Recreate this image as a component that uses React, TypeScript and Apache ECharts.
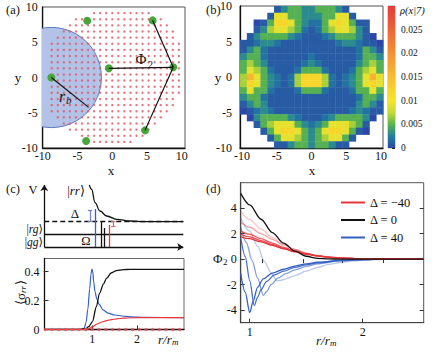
import React, { useEffect, useRef } from 'react';
import * as echarts from 'echarts';

const FONT = '"Liberation Serif", "DejaVu Serif", serif';

// ---------- panel (a) ----------
const atomX = [-3.6, 5.8, -0.5, 8.76, -8.76, 4.7, -3.76];
const atomY = [8.05, 8.1, 1.3, 1.45, 0.0, -7.5, -9.0];
const bonds = [[1, 3], [3, 5], [2, 3]];
const rbEnd = [-3.4, -4.24];
const blockadeCenter = [-8.76, 0];
const blockadeRadius = 7.2;
const latticeSpacing = 0.87;
const dotRowIdx = [10.5, 9.5, 8.5, 7.5, 6.5, 5.5, 4.5, 3.5, 2.5, 1.5, 0.5, -0.5, -1.5, -2.5, -3.5, -4.5, -5.5, -6.5, -7.5, -8.5, -9.5, -10.5];
const dotRowMin = [-3, -6, -7, -8, -9, -10, -10, -10, -10, -10, -10, -10, -10, -10, -10, -10, -10, -9, -8, -7, -5, -3];
const dotRowMax = [6, 8, 9, 10, 10, 11, 11, 11, 11, 11, 11, 11, 11, 11, 10, 10, 9, 8, 7, 6, 5, 3];
const xyTicks = [-10, -5, 0, 5, 10];

// ---------- panel (b) ----------
const heatRows = [
  '.....13443344431.....',
  '....1664433344661....',
  '..l1477643224676411..',
  '..13566542124566531..',
  '.134444321112344431l.',
  '11233211111111233211l',
  '134211111111111112431',
  '344211111121111112443',
  '454311111232111113454',
  '465421112444211124564',
  '586432125777521234686',
  '576432125777521234676',
  '464421112444211124464',
  '344211111111111112443',
  '134311111111111113431',
  'l12321111111111123211',
  '.l34444321112344443l.',
  '..14566643234666541..',
  '...146776434677641l..',
  '....1466543456641....',
  '.....11344344311.....',
];
const levelCodes = ['0', '1', '2', '3', '4', '5', '6', '7', '8', 'l'];
const levelValues = [0.0003, 0.0009, 0.0019, 0.003, 0.0048, 0.0068, 0.0092, 0.012, 0.016, -1];
const heatXRange = [-10.3, 10.3];
const heatYRange = [-10, 10];
const cmap = ['#2b48a8', '#2180a0', '#5ab54c', '#c6da35', '#f5e52a', '#f8d22b', '#f7bd2f', '#f5a632', '#f39134', '#f07b35', '#ec6536', '#e94f37', '#e63b38'];
const cbarMax = 0.03;

// ---------- panel (c) schematic (units: px-like) ----------
const rrX = [45, 47.4, 50.7, 55.7, 62.4, 72.4, 85.7, 100, 139];
const rrY = [62, 57.7, 44.3, 36, 31, 27.7, 26, 25.4, 25.3];
const levelRG = 12.7;
const levelRR = 25.3;

// ---------- panel (c) sigma_rr ----------
const sigBlackX = [-0.07, 0.7, 0.85, 0.92, 1.0, 1.09, 1.16, 1.25, 1.32, 1.42, 1.54, 1.7, 1.84, 2.2, 3.05];
const sigBlackY = [0, 0, 0.005, 0.02, 0.053, 0.157, 0.25, 0.315, 0.354, 0.39, 0.407, 0.413, 0.415, 0.415, 0.415];
const sigBlueX = [-0.07, 0.75, 0.82, 0.86, 0.9, 0.94, 0.97, 0.99, 1.01, 1.03, 1.06, 1.1, 1.15, 1.24, 1.35, 1.5, 1.75, 2.0, 2.2, 3.05];
const sigBlueY = [0, 0, 0.01, 0.05, 0.14, 0.28, 0.38, 0.417, 0.4, 0.33, 0.26, 0.21, 0.175, 0.135, 0.113, 0.1, 0.09, 0.085, 0.083, 0.082];
const sigRedX = [-0.07, 0.8, 0.9, 1.0, 1.1, 1.2, 1.3, 1.4, 1.55, 1.7, 1.9, 2.2, 3.05];
const sigRedY = [0, 0, 0.003, 0.018, 0.037, 0.05, 0.06, 0.067, 0.074, 0.078, 0.081, 0.082, 0.082];
const sigDotsX = [-0.05, 0.1, 0.25, 0.4, 0.55, 0.7, 0.85, 1.0, 1.15, 1.3, 1.45, 1.6, 1.75, 1.9, 2.05, 2.2, 2.35, 2.5, 2.65, 2.8, 2.95];

// ---------- panel (d) Phi_2 ----------
const phiX = [0.92, 1.0, 1.1, 1.2, 1.3, 1.4, 1.5, 1.6, 1.7, 1.8, 2.0, 2.2, 2.54];
const phiRed1 = [3.75, 3.1, 2.35, 1.7, 1.15, 0.75, 0.45, 0.25, 0.14, 0.07, 0.02, 0, 0];
const phiRed2 = [2.9, 2.5, 2.0, 1.55, 1.1, 0.75, 0.47, 0.28, 0.16, 0.08, 0.02, 0, 0];
const phiRed3 = [2.2, 1.95, 1.6, 1.25, 0.92, 0.65, 0.43, 0.27, 0.16, 0.09, 0.03, 0.01, 0];
const phiRed4 = [1.95, 1.75, 1.45, 1.15, 0.85, 0.6, 0.4, 0.25, 0.15, 0.08, 0.03, 0.01, 0];
const phiRed5 = [1.75, 1.6, 1.35, 1.07, 0.8, 0.57, 0.38, 0.24, 0.14, 0.08, 0.03, 0.01, 0];
const phiRedAlpha = [0.3, 0.45, 0.8, 0.9, 1];
const phiBlack = [5.16, 4.25, 3.13, 2.08, 1.25, 0.62, 0.22, 0.06, 0.01, 0, 0, 0, 0];
const blue1X = [0.92, 0.96, 1.0, 1.03, 1.07, 1.12, 1.2, 1.3, 1.4, 1.5, 1.6, 1.8, 2.0, 2.2, 2.54];
const blue1Y = [-1.1, -2.6, -4.2, -3.3, -2.2, -1.55, -1.1, -0.8, -0.55, -0.38, -0.25, -0.1, -0.04, -0.01, 0];
const blue2X = [0.92, 0.96, 1.0, 1.04, 1.07, 1.1, 1.15, 1.22, 1.3, 1.4, 1.5, 1.6, 1.8, 2.0, 2.2, 2.54];
const blue2Y = [1.7, 0.2, -1.7, -3.65, -3.0, -2.4, -1.75, -1.25, -0.95, -0.65, -0.45, -0.3, -0.12, -0.04, -0.01, 0];
const blue3X = [0.92, 0.97, 1.02, 1.07, 1.12, 1.15, 1.19, 1.25, 1.32, 1.4, 1.5, 1.6, 1.8, 2.0, 2.2, 2.54];
const blue3Y = [2.5, 1.3, -0.1, -1.5, -2.85, -2.55, -2.0, -1.5, -1.15, -0.85, -0.58, -0.38, -0.15, -0.05, -0.01, 0];
const blue4X = [0.92, 1.0, 1.07, 1.13, 1.19, 1.24, 1.27, 1.32, 1.4, 1.5, 1.6, 1.7, 1.8, 1.9, 2.1, 2.3, 2.54];
const blue4Y = [3.2, 2.2, 1.0, -0.2, -1.1, -1.7, -1.68, -1.55, -1.3, -0.95, -0.65, -0.42, -0.27, -0.16, -0.05, -0.01, 0];
const blueAlpha = [1, 0.9, 0.6, 0.35];
const dTopTicks = [1.11, 1.47, 1.82, 2.18];

const RED = '#e8353a';
const BLUE = '#3560c0';
const INK = '#111';

const zip = (xs: number[], ys: number[]) => xs.map((x, i) => [x, ys[i]]);

function buildOption() {
  const dots: number[][] = [];
  dotRowIdx.forEach((j, r) => {
    for (let k = dotRowMin[r]; k <= dotRowMax[r]; k++) dots.push([k * latticeSpacing, j * latticeSpacing]);
  });
  const nR = heatRows.length;
  const nC = heatRows[0].length;
  const cw = (heatXRange[1] - heatXRange[0]) / nC;
  const ch = (heatYRange[1] - heatYRange[0]) / nR;
  const cells: number[][] = [];
  heatRows.forEach((row, r) => {
    row.split('').forEach((code, c) => {
      const li = levelCodes.indexOf(code);
      if (li < 0) return;
      cells.push([heatXRange[0] + (c + 0.5) * cw, heatYRange[1] - (r + 0.5) * ch, levelValues[li]]);
    });
  });

  const lbl = (extra: any = {}) => ({ fontFamily: FONT, fontSize: 12, color: INK, ...extra });
  const axLine = { show: true, onZero: false, lineStyle: { color: INK, width: 1.3 } };
  const noSplit = { show: false };

  const series: any[] = [];
  series.push({
    type: 'custom', xAxisIndex: 0, yAxisIndex: 0, clip: true, silent: true,
    data: [[blockadeCenter[0], blockadeCenter[1], blockadeRadius]],
    encode: { x: 0, y: 1 },
    renderItem: (_p: any, api: any) => {
      const c = api.coord([api.value(0), api.value(1)]);
      const r = api.size([api.value(2), 0])[0];
      return { type: 'circle', shape: { cx: c[0], cy: c[1], r }, style: { fill: '#b3c2e7', stroke: '#5c79be', lineWidth: 1 } };
    },
  });
  series.push({ type: 'scatter', xAxisIndex: 0, yAxisIndex: 0, data: dots, symbolSize: 2.4, itemStyle: { color: '#e05563' }, silent: true });
  bonds.forEach((b) => {
    series.push({ type: 'line', xAxisIndex: 0, yAxisIndex: 0, data: [[atomX[b[0]], atomY[b[0]]], [atomX[b[1]], atomY[b[1]]]], showSymbol: false, lineStyle: { color: INK, width: 1.2 }, silent: true });
  });
  series.push({ type: 'line', xAxisIndex: 0, yAxisIndex: 0, data: [[atomX[4], atomY[4]], rbEnd], showSymbol: false, lineStyle: { color: INK, width: 1.2 }, silent: true });
  series.push({ type: 'scatter', xAxisIndex: 0, yAxisIndex: 0, data: zip(atomX, atomY), symbolSize: 8, itemStyle: { color: '#47a53c', opacity: 1 }, silent: true });

  const heatIdx = series.length;
  series.push({
    type: 'custom', xAxisIndex: 1, yAxisIndex: 1, silent: true, data: cells,
    encode: { x: 0, y: 1 },
    renderItem: (_p: any, api: any) => {
      const p = api.coord([api.value(0) - cw / 2, api.value(1) + ch / 2]);
      const s = api.size([cw, ch]);
      return { type: 'rect', shape: { x: p[0], y: p[1], width: s[0] + 0.4, height: s[1] + 0.4 }, style: { fill: api.visual('color') } };
    },
  });
  series.push({
    type: 'bar', xAxisIndex: 2, yAxisIndex: 2, data: [cbarMax], barWidth: '100%', silent: true,
    itemStyle: { color: new echarts.graphic.LinearGradient(0, 1, 0, 0, cmap.map((c, i) => ({ offset: i / (cmap.length - 1), color: c }))) },
  });

  const seg = (x1: number, y1: number, x2: number, y2: number, color: string, extra: any = {}) => [
    { coord: [x1, y1], lineStyle: { color, width: 1.3, type: 'solid', ...extra }, symbol: 'none' },
    { coord: [x2, y2], lineStyle: { color, width: 1.3, type: 'solid', ...extra }, symbol: extra.arrow ? 'arrow' : 'none', symbolSize: 6 },
  ];
  const bracket = (x: number, y1: number, y2: number, color: string) => [
    seg(x, y1, x, y2, color, { width: 1.2 }),
    seg(x - 2.2, y1, x + 2.2, y1, color, { width: 1.2 }),
    seg(x - 2.2, y2, x + 2.2, y2, color, { width: 1.2 }),
  ];
  series.push({
    type: 'line', xAxisIndex: 3, yAxisIndex: 3, data: zip(rrX, rrY), smooth: 0.4, smoothMonotone: 'x', showSymbol: false,
    lineStyle: { color: INK, width: 1.3 }, silent: true,
    markLine: {
      silent: true, symbol: 'none', label: { show: false }, animation: false,
      data: [
        seg(0, levelRR, 139, levelRR, INK, { type: [5, 3] }),
        seg(0, levelRG, 139, levelRG, INK),
        seg(0, 0, 139, 0, INK, { arrow: true }),
        seg(0, 0, 0, 62, INK, { arrow: true }),
        seg(51.4, 0, 51.4, 38, '#3a5fc4'),
        seg(56.8, 0, 56.8, levelRR, INK),
        seg(59.6, 0, 59.6, 19, INK),
        seg(64.7, 0, 64.7, 22, RED),
        ...bracket(45.7, levelRR, 37, '#6f7fca'),
        ...bracket(69, 21, levelRR, '#c4737c'),
      ],
    },
  });

  series.push({ type: 'line', xAxisIndex: 4, yAxisIndex: 4, data: zip(sigBlueX, sigBlueY), smooth: 0.3, smoothMonotone: 'x', showSymbol: false, lineStyle: { color: BLUE, width: 1.2 }, silent: true });
  series.push({ type: 'line', xAxisIndex: 4, yAxisIndex: 4, data: zip(sigBlackX, sigBlackY), smooth: 0.3, smoothMonotone: 'x', showSymbol: false, lineStyle: { color: INK, width: 1.3 }, silent: true });
  series.push({ type: 'line', xAxisIndex: 4, yAxisIndex: 4, data: zip(sigRedX, sigRedY), smooth: 0.3, smoothMonotone: 'x', showSymbol: false, lineStyle: { color: RED, width: 1.2 }, silent: true });
  series.push({ type: 'scatter', xAxisIndex: 4, yAxisIndex: 4, data: sigDotsX.map((x) => [x, 0]), symbolSize: 3.4, itemStyle: { color: '#e25560' }, silent: true, z: 5 });

  const dLine = (data: number[][], color: string, alpha: number, name?: string) => ({
    type: 'line', xAxisIndex: 5, yAxisIndex: 6, data, name, smooth: 0.3, smoothMonotone: 'x', showSymbol: false, silent: true,
    color, itemStyle: { color }, lineStyle: { color, width: 1.3, opacity: alpha },
  });
  [blue4X, blue3X, blue2X, blue1X].forEach((bx, i) => {
    const by = [blue4Y, blue3Y, blue2Y, blue1Y][i];
    const a = [blueAlpha[3], blueAlpha[2], blueAlpha[1], blueAlpha[0]][i];
    series.push(dLine(zip(bx, by), BLUE, a, i === 3 ? 'Δ = 40' : undefined));
  });
  [phiRed1, phiRed2, phiRed3, phiRed4, phiRed5].forEach((ry, i) => {
    series.push(dLine(zip(phiX, ry), RED, phiRedAlpha[i], i === 4 ? 'Δ = −40' : undefined));
  });
  series.push(dLine(zip(phiX, phiBlack), INK, 1, 'Δ = 0'));

  const txt = (x: number, y: number, text: string, o: any = {}) => ({
    type: 'text', x, y, silent: true, z: 100,
    style: { text, fill: INK, fontFamily: FONT, fontSize: 12, align: 'left', verticalAlign: 'middle', ...o },
  });
  const it = { fontStyle: 'italic' };
  const ket = (x: number, y: number, inner: string, align: string, size: number) => ({
    type: 'text', x, y, silent: true, z: 100,
    style: {
      text: '{n||}{i|' + inner + '}{n|⟩}', align, verticalAlign: 'middle', fill: INK,
      rich: { n: { fontFamily: FONT, fontSize: size, lineHeight: size - 1 }, i: { fontFamily: FONT, fontSize: size, fontStyle: 'italic', lineHeight: size - 1 } },
    },
  });

  const graphic: any[] = [
    txt(6, 10, '(a)', { fontSize: 12.5 }),
    txt(206, 10, '(b)', { fontSize: 12.5 }),
    txt(6, 189, '(c)', { fontSize: 12.5 }),
    txt(206, 189, '(d)', { fontSize: 12.5 }),
    txt(111, 170, 'x', { align: 'center', fontSize: 13 }),
    txt(312, 170, 'x', { align: 'center', fontSize: 13 }),
    txt(18, 77, 'y', { align: 'center', fontSize: 13 }),
    txt(218, 77, 'y', { align: 'center', fontSize: 13 }),
    txt(141, 59, 'Φ', { align: 'center', fontSize: 15 }),
    txt(148, 64, '2', { fontSize: 10 }),
    txt(59, 96, 'r', { fontSize: 16, ...it }),
    txt(66, 100, 'b', { fontSize: 11, ...it }),
    txt(400, 10, 'ρ(x|7)', { fontSize: 10.5, ...it }),
    txt(33, 190, 'V', { align: 'center', fontSize: 12.5 }),
    ket(85, 190, 'rr', 'right', 13),
    ket(43, 228.5, 'rg', 'right', 11.5),
    ket(43, 241.5, 'gg', 'right', 11.5),
    txt(75, 213, 'Δ', { align: 'center', fontSize: 13 }),
    txt(86, 241, 'Ω', { align: 'center', fontSize: 12.5 }),
    {
      type: 'group', x: 20, y: 291, rotation: Math.PI / 2, silent: true,
      children: [
        txt(-14, 0, '⟨σ', { fontSize: 13 }),
        txt(-2, 3, 'rr', { fontSize: 9, ...it }),
        txt(6, 0, '⟩', { fontSize: 13 }),
      ],
    },
    txt(158, 339, 'r/r', { fontSize: 13, ...it }),
    txt(172, 342, 'm', { fontSize: 9, ...it }),
    txt(213, 258, 'Φ', { fontSize: 13 }),
    txt(223, 262, '2', { fontSize: 9 }),
    txt(316, 340, 'r/r', { fontSize: 13, ...it }),
    txt(330, 343, 'm', { fontSize: 9, ...it }),
  ];

  const hidden = { show: false };
  return {
    animation: false,
    backgroundColor: '#fff',
    textStyle: { fontFamily: FONT },
    grid: [
      { left: 42.7, top: 7, width: 142.3, height: 141, show: true, borderColor: '#555', borderWidth: 1, backgroundColor: 'transparent' },
      { left: 240, top: 6, width: 143, height: 142, show: true, borderColor: '#555', borderWidth: 1, backgroundColor: 'transparent' },
      { left: 388, top: 6, width: 7, height: 142, show: true, borderColor: '#777', borderWidth: 0.6, backgroundColor: 'transparent' },
      { left: 44.3, top: 183, width: 140, height: 64 },
      { left: 44.5, top: 258.5, width: 139.5, height: 71, show: true, borderColor: '#666', borderWidth: 1, backgroundColor: 'transparent' },
      { left: 240.7, top: 182.7, width: 183, height: 140, show: true, borderColor: '#555', borderWidth: 1, backgroundColor: 'transparent' },
    ],
    xAxis: [
      { gridIndex: 0, type: 'value', min: -10, max: 10.45, axisLine: axLine, axisTick: hidden, splitLine: noSplit, axisLabel: lbl({ margin: 2, customValues: xyTicks }) },
      { gridIndex: 1, type: 'value', min: heatXRange[0], max: heatXRange[1], axisLine: axLine, axisTick: hidden, splitLine: noSplit, axisLabel: lbl({ margin: 2, customValues: xyTicks }) },
      { gridIndex: 2, type: 'category', data: ['c'], show: false },
      { gridIndex: 3, type: 'value', min: 0, max: 140, show: false },
      { gridIndex: 4, type: 'value', min: -0.07, max: 3.05, axisLine: axLine, splitLine: noSplit, axisTick: { show: true, inside: true, length: 4, customValues: [1, 2], lineStyle: { color: '#333' } }, axisLabel: lbl({ margin: 3, customValues: [1, 2] }) },
      { gridIndex: 5, type: 'value', min: 0.92, max: 2.54, axisLine: { ...axLine, lineStyle: { color: '#444', width: 1.2 } }, splitLine: noSplit, axisTick: { show: true, inside: true, length: 4, customValues: [1, 2], lineStyle: { color: '#333' } }, axisLabel: lbl({ margin: 3, customValues: [1, 2] }) },
      { gridIndex: 5, type: 'value', position: 'top', min: 0.92, max: 2.54, axisLine: { show: false }, splitLine: noSplit, axisTick: { show: true, inside: true, length: 4, customValues: dTopTicks, lineStyle: { color: '#333' } }, axisLabel: { show: false } },
    ],
    yAxis: [
      { gridIndex: 0, type: 'value', min: -10, max: 10, interval: 5, axisLine: axLine, axisTick: hidden, splitLine: noSplit, axisLabel: lbl({ margin: 5 }) },
      { gridIndex: 1, type: 'value', min: -10, max: 10, interval: 5, axisLine: axLine, axisTick: hidden, splitLine: noSplit, axisLabel: lbl({ margin: 8 }) },
      {
        gridIndex: 2, type: 'value', min: 0, max: cbarMax, interval: 0.005, position: 'right', axisLine: { show: false }, splitLine: noSplit,
        axisTick: { show: true, inside: true, length: 3, lineStyle: { color: '#222' } },
        axisLabel: lbl({ fontSize: 9.5, margin: 6, showMaxLabel: false, formatter: (v: number) => String(parseFloat(v.toFixed(4))) }),
      },
      { gridIndex: 3, type: 'value', min: 0, max: 64, show: false },
      { gridIndex: 4, type: 'value', min: 0, max: 0.49, axisLine: axLine, splitLine: noSplit, axisTick: { show: true, inside: true, length: 4, customValues: [0.2, 0.4], lineStyle: { color: '#333' } }, axisLabel: lbl({ margin: 5, customValues: [0, 0.2, 0.4] }) },
      { gridIndex: 4, type: 'value', position: 'right', min: 0, max: 0.49, axisLine: { show: false }, splitLine: noSplit, axisTick: { show: true, inside: true, length: 4, customValues: [0.2, 0.4], lineStyle: { color: '#333' } }, axisLabel: { show: false } },
      { gridIndex: 5, type: 'value', min: -5, max: 6, axisLine: { ...axLine, lineStyle: { color: '#444', width: 1.2 } }, splitLine: noSplit, axisTick: { show: true, inside: true, length: 4, customValues: [-4, -2, 0, 2, 4], lineStyle: { color: '#333' } }, axisLabel: lbl({ margin: 4, customValues: [-4, -2, 0, 2, 4] }) },
      { gridIndex: 5, type: 'value', position: 'right', min: -5, max: 6, axisLine: { show: false }, splitLine: noSplit, axisTick: { show: true, inside: true, length: 4, customValues: [-4, -2, 0, 2, 4], lineStyle: { color: '#333' } }, axisLabel: { show: false } },
    ],
    visualMap: [
      { type: 'continuous', show: false, min: 0, max: cbarMax, dimension: 2, seriesIndex: heatIdx, inRange: { color: cmap }, outOfRange: { color: '#b6b8e4' } },
    ],
    legend: {
      data: ['Δ = −40', 'Δ = 0', 'Δ = 40'], left: 341, top: 196, orient: 'vertical', padding: 0,
      icon: 'rect', itemWidth: 24, itemHeight: 2, itemGap: 4.5, selectedMode: false,
      textStyle: { fontFamily: FONT, fontSize: 12.5, color: INK, lineHeight: 13 },
    },
    series,
    graphic,
  };
}

export default function App() {
  const ref = useRef<HTMLDivElement>(null);
  useEffect(() => {
    if (!ref.current) return;
    const chart = echarts.init(ref.current, null, { renderer: 'svg' });
    chart.setOption(buildOption() as any);
    return () => chart.dispose();
  }, []);
  return <div ref={ref} style={{ position: 'fixed', left: 0, top: 0, width: 436, height: 352, background: '#fff' }} />;
}
